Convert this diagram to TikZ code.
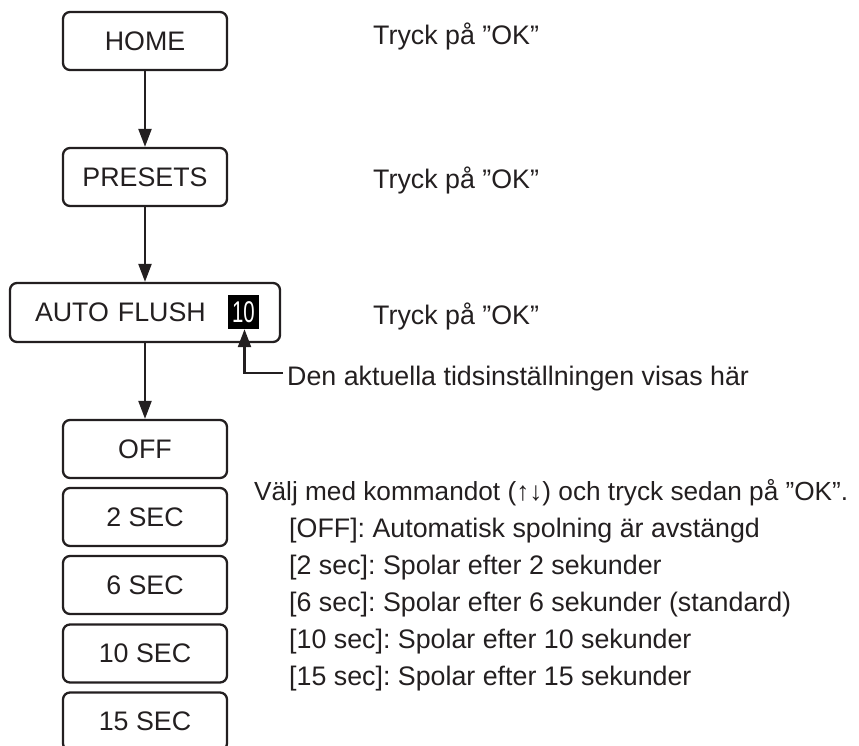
\documentclass[tikz,border=0pt]{standalone}
\usepackage{fontspec}
\setmainfont{Liberation Sans}
\usetikzlibrary{arrows.meta}
\definecolor{ink}{HTML}{231F20}
\frenchspacing
\begin{document}
\begin{tikzpicture}[x=1pt,y=-1pt,
  every node/.style={font=\fontsize{26.8}{30}\selectfont, text=ink},
  box/.style={draw=ink, line width=2.3pt, rounded corners=7pt, minimum width=164pt, minimum height=58pt, inner sep=0pt},
  arr/.style={draw=ink, line width=2.3pt, -{Triangle[length=18pt,width=13pt]}},
  txt/.style={anchor=base west, inner sep=0pt}]
\useasboundingbox (0,0) rectangle (859,746);
\clip (0,0) rectangle (859,746);

% left column
\node[box] (home) at (145,41) {HOME};
\node[box] (presets) at (145,177) {PRESETS};
\node[box, minimum width=270pt, minimum height=59pt, text width=220pt, inner xsep=25pt, align=left] (auto) at (145,312.5) {AUTO FLUSH};
\node[fill=black, minimum width=31pt, minimum height=34pt, inner sep=0pt, text=white] (badge) at (243.5,312) {\fontsize{30}{30}\selectfont\scalebox{0.68}[1]{10}};
\node[box] (off) at (145,449) {OFF};
\node[box] (s2) at (145,517) {2 SEC};
\node[box] (s6) at (145,585) {6 SEC};
\node[box] (s10) at (145,653.5) {10 SEC};
\node[box] (s15) at (145,721.5) {15 SEC};

\draw[arr] (home) -- (presets);
\draw[arr] (presets) -- (auto);
\draw[arr] (auto) -- (off);

% right texts
\node[txt] (t1) at (373,45) {Tryck på ”OK”};
\node[txt] (t2) at (373,189) {Tryck på ”OK”};
\node[txt] (t3) at (373,324) {Tryck på ”OK”};
\node[txt] (den) at (287,385) {Den aktuella tidsinställningen visas här};
\coordinate (dl) at (283,373);
\draw[arr] (dl) -| ([xshift=1pt]badge.south);

\node[txt, font=\fontsize{26.2}{30}\selectfont] (valj) at (254,500) {Välj med kommandot (↑↓) och tryck sedan på ”OK”.};
\node[txt] (l1) at (289,537) {[OFF]: Automatisk spolning är avstängd};
\node[txt] (l2) at (289,574) {[2 sec]: Spolar efter 2 sekunder};
\node[txt] (l3) at (289,611) {[6 sec]: Spolar efter 6 sekunder (standard)};
\node[txt] (l4) at (289,648) {[10 sec]: Spolar efter 10 sekunder};
\node[txt] (l5) at (289,685) {[15 sec]: Spolar efter 15 sekunder};
\end{tikzpicture}
\end{document}
